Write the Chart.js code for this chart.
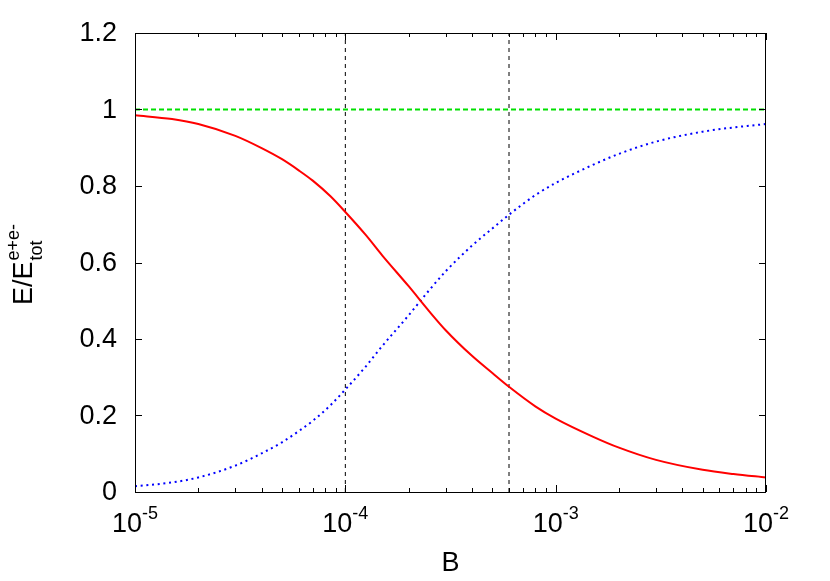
<!DOCTYPE html>
<html>
<head>
<meta charset="utf-8">
<script src="https://cdn.jsdelivr.net/npm/chart.js@4/dist/chart.umd.min.js"></script>
<style>
  html, body { margin: 0; padding: 0; background: #fff; }
</style>
</head>
<body>
<canvas id="chart" width="830" height="581"></canvas>
<script>
// magnetic field values (x) and energy fractions
const B_VALUES = [1e-5, 1.5e-5, 2e-5, 3e-5, 4e-5, 5e-5, 6e-5, 7e-5, 8.5e-5, 1e-4, 1.25e-4,
  1.5e-4, 2e-4, 2.5e-4, 3e-4, 4e-4, 5e-4, 6e-4, 8e-4, 1e-3, 1.5e-3, 2e-3, 3e-3, 5e-3, 7e-3, 1e-2];
const RED_FRACTION = [0.985, 0.975, 0.962, 0.931, 0.899, 0.870, 0.841, 0.814, 0.773, 0.732, 0.672,
  0.618, 0.538, 0.473, 0.423, 0.356, 0.311, 0.275, 0.224, 0.192, 0.145, 0.116, 0.084, 0.058, 0.047, 0.038];
const BLUE_FRACTION = [0.015, 0.025, 0.038, 0.069, 0.101, 0.130, 0.159, 0.186, 0.227, 0.268, 0.328,
  0.382, 0.462, 0.527, 0.577, 0.644, 0.689, 0.725, 0.776, 0.808, 0.855, 0.884, 0.916, 0.942, 0.953, 0.962];
const TOTAL_B = [1e-5, 1e-2];
const TOTAL_FRACTION = [1, 1];
const MARKER_B = [1e-4, 6e-4];
const MARKER_Y = [0, 1.2];

const Y_TICKS = [0, 0.2, 0.4, 0.6, 0.8, 1, 1.2];
const Y_TICK_LABELS = ['0', '0.2', '0.4', '0.6', '0.8', '1', '1.2'];
const X_DECADES = [1e-5, 1e-4, 1e-3, 1e-2];
const X_DECADE_EXP = ['-5', '-4', '-3', '-2'];
const X_MINOR = [2, 3, 4, 5, 6, 7, 8, 9];

const FONT = "'Liberation Sans', Arial, Helvetica, sans-serif";

const pts = (xs, ys) => xs.map((x, i) => ({ x, y: ys[i] }));

// gnuplot-style frame: box, inward ticks, labels with superscripts
const framePlugin = {
  id: 'frame',
  afterDraw(chart) {
    const { ctx, chartArea: a, scales: { x, y } } = chart;
    ctx.save();
    ctx.strokeStyle = '#000';
    ctx.lineWidth = 1;
    ctx.strokeRect(a.left + 0.5, a.top + 0.5, a.right - a.left - 1, a.bottom - a.top);

    ctx.beginPath();
    Y_TICKS.forEach(v => {
      const py = Math.round(y.getPixelForValue(v)) + 0.5;
      ctx.moveTo(a.left, py); ctx.lineTo(a.left + 7, py);
      ctx.moveTo(a.right, py); ctx.lineTo(a.right - 7, py);
    });
    X_DECADES.forEach((d, i) => {
      const px = Math.round(x.getPixelForValue(d)) + 0.5;
      ctx.moveTo(px, a.bottom); ctx.lineTo(px, a.bottom - 7);
      ctx.moveTo(px, a.top); ctx.lineTo(px, a.top + 7);
      if (i === X_DECADES.length - 1) return;
      X_MINOR.forEach(m => {
        const mx = Math.round(x.getPixelForValue(m * d)) + 0.5;
        ctx.moveTo(mx, a.bottom); ctx.lineTo(mx, a.bottom - 4);
        ctx.moveTo(mx, a.top); ctx.lineTo(mx, a.top + 4);
      });
    });
    ctx.stroke();

    ctx.fillStyle = '#000';
    ctx.font = `27px ${FONT}`;
    ctx.textAlign = 'right';
    ctx.textBaseline = 'middle';
    Y_TICKS.forEach((v, i) => ctx.fillText(Y_TICK_LABELS[i], a.left - 18, y.getPixelForValue(v) + 1));

    ctx.textAlign = 'left';
    ctx.textBaseline = 'alphabetic';
    X_DECADES.forEach((d, i) => {
      ctx.font = `27px ${FONT}`;
      const wBase = ctx.measureText('10').width;
      ctx.font = `18px ${FONT}`;
      const wExp = ctx.measureText(X_DECADE_EXP[i]).width;
      const start = x.getPixelForValue(d) - (wBase + wExp) / 2;
      ctx.font = `27px ${FONT}`;
      ctx.fillText('10', start, a.bottom + 40);
      ctx.font = `18px ${FONT}`;
      ctx.fillText(X_DECADE_EXP[i], start + wBase, a.bottom + 27);
    });

    ctx.font = `27px ${FONT}`;
    ctx.textAlign = 'center';
    ctx.fillText('B', (a.left + a.right) / 2, a.bottom + 79);

    // y title: E/E with stacked tot / e+e-
    ctx.translate(32, 305);
    ctx.rotate(-Math.PI / 2);
    ctx.textAlign = 'left';
    ctx.fillText('E/E', 0, 0);
    const w = ctx.measureText('E/E').width;
    ctx.font = `18px ${FONT}`;
    ctx.fillText('tot', w + 1, 10);
    ctx.fillText('e+e-', w + 1, -13);
    ctx.restore();
  },
};

new Chart(document.getElementById('chart'), {
  type: 'line',
  data: {
    datasets: [
      {
        data: pts(B_VALUES, RED_FRACTION),
        borderColor: '#ff0000',
        borderWidth: 2,
        cubicInterpolationMode: 'monotone',
      },
      {
        data: pts(TOTAL_B, TOTAL_FRACTION),
        borderColor: '#00e000',
        borderWidth: 2,
        borderDash: [5, 3],
      },
      {
        data: pts(B_VALUES, BLUE_FRACTION),
        borderColor: '#0000ff',
        borderWidth: 2,
        borderDash: [2, 3.7],
        cubicInterpolationMode: 'monotone',
      },
      ...MARKER_B.map(b => ({
        data: pts([b, b], MARKER_Y),
        borderColor: '#000',
        borderWidth: 1,
        borderDash: [4, 4],
      })),
    ],
  },
  options: {
    responsive: false,
    animation: false,
    layout: { padding: { left: 135, right: 64, top: 33, bottom: 89 } },
    plugins: { legend: { display: false }, tooltip: { enabled: false } },
    elements: { point: { radius: 0 } },
    scales: {
      x: { type: 'logarithmic', min: 1e-5, max: 1e-2, display: false },
      y: { type: 'linear', min: 0, max: 1.2, display: false },
    },
  },
  plugins: [framePlugin],
});
</script>
</body>
</html>
